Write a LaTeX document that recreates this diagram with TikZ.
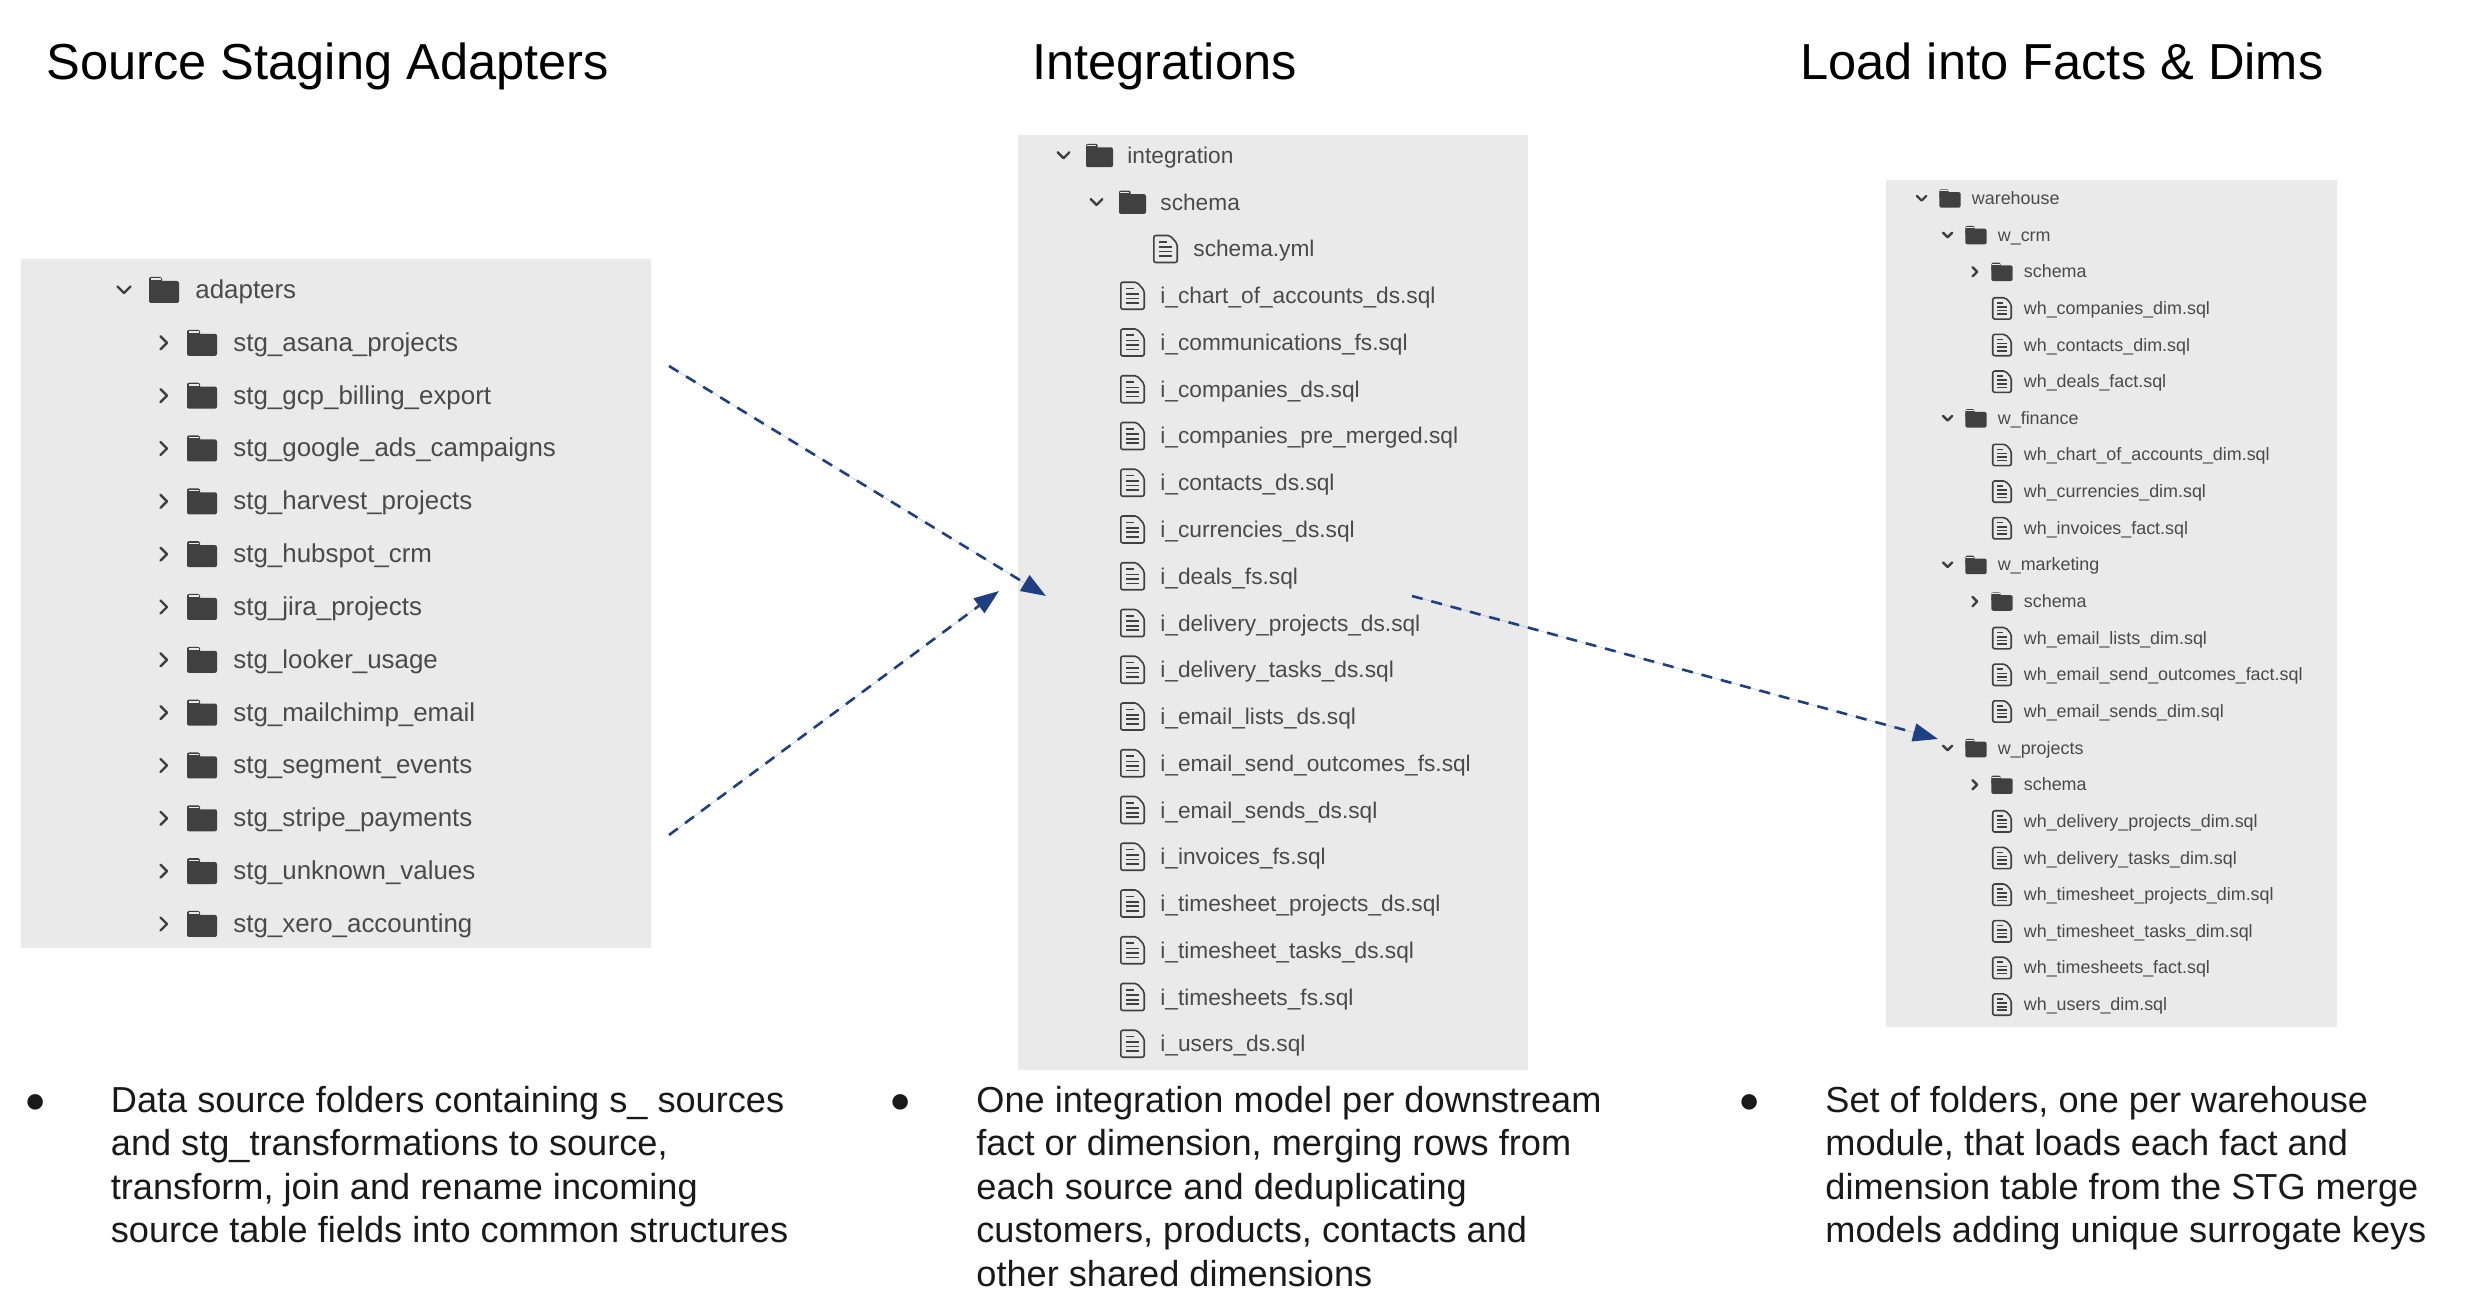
\documentclass[tikz,border=0pt]{standalone}
\usepackage{fontspec}
\setmainfont{Liberation Sans}
\usetikzlibrary{arrows.meta}

\definecolor{panelgray}{HTML}{EAEAEA}
\definecolor{icongray}{HTML}{404040}
\definecolor{treetext}{HTML}{4A4A4A}
\definecolor{flowblue}{HTML}{1F3F85}

\newcommand{\foldershape}{
  \fill[icongray, rounded corners=1pt] (-15,-13) rectangle (-2,0);
  \fill[icongray, rounded corners=1pt] (-15,-9) rectangle (15,13);
  \fill[panelgray] (-13.5,-11.5) rectangle (-3.5,-10);
}

\tikzset{
  panel/.style={fill=panelgray},
  heading/.style={anchor=base west, inner sep=0pt, font=\fontsize{25.3}{30}\selectfont},
  blurb/.style={anchor=base west, inner sep=0pt, align=left, font=\fontsize{18.08}{21.75}\selectfont, text=black!90},
  blob/.style={anchor=base west, inner sep=0pt, font=\fontsize{18}{21.75}\selectfont, text=black!90},
  treelabel/.style={anchor=base west, inner sep=0pt, text=treetext},
  flow/.style={-{Triangle[length=12.5pt,width=9pt]}, draw=flowblue, fill=flowblue, line width=1.3pt, dash pattern=on 5.5pt off 4.5pt},
  pics/openfolder/.style={code={
    \draw[icongray, line width=1.2pt, line cap=round, line join=round] (-46.5,-3.5) -- (-40,3) -- (-33.5,-3.5);
    \foldershape
  }},
  pics/shutfolder/.style={code={
    \draw[icongray, line width=1.2pt, line cap=round, line join=round] (-41.5,-6.5) -- (-35,0) -- (-41.5,6.5);
    \foldershape
  }},
  pics/docfile/.style={code={
    \draw[icongray, line width=.8pt, rounded corners=1pt, line join=round] (-13,-15) -- (5,-15) -- (13,-6) -- (13,15) -- (-13,15) -- cycle;
    \draw[icongray, line width=.8pt] (-7,-8) -- (2,-8) (-7,-2) -- (7,-2) (-7,3) -- (7,3) (-7,8) -- (7,8);
  }},
}

\begin{document}
\begin{tikzpicture}[x=0.5pt, y=-0.5pt]
  \useasboundingbox (0,0) rectangle (2486,1316);

  % headings
  \node[heading] (headadp) at (46,80) {Source Staging Adapters};
  \node[heading] (headint) at (1032,80) {Integrations};
  \node[heading] (headwh) at (1800,80) {Load into Facts \& Dims};

  % grey panels behind the trees
  \fill[panel] (21,259) rectangle (651,948);
  \fill[panel] (1018,135) rectangle (1528,1070);
  \fill[panel] (1886,180) rectangle (2337,1027);

  % adapters tree
  \foreach \lvl/\icon/\name [count=\i from 0] in {
    0/openfolder/adapters,
    1/shutfolder/stg\_asana\_projects,
    1/shutfolder/stg\_gcp\_billing\_export,
    1/shutfolder/stg\_google\_ads\_campaigns,
    1/shutfolder/stg\_harvest\_projects,
    1/shutfolder/stg\_hubspot\_crm,
    1/shutfolder/stg\_jira\_projects,
    1/shutfolder/stg\_looker\_usage,
    1/shutfolder/stg\_mailchimp\_email,
    1/shutfolder/stg\_segment\_events,
    1/shutfolder/stg\_stripe\_payments,
    1/shutfolder/stg\_unknown\_values,
    1/shutfolder/stg\_xero\_accounting} {
    \pic at ({164+38*\lvl},{290+52.83*\i}) {\icon};
    \node[treelabel, font=\fontsize{12.95}{16}\selectfont] (adp\i) at ({195+38*\lvl},{298.5+52.83*\i}) {\name};
  }

  % integration tree
  \foreach \lvl/\icon/\name [count=\i from 0] in {
    0/openfolder/integration,
    1/openfolder/schema,
    2/docfile/schema.yml,
    1/docfile/i\_chart\_of\_accounts\_ds.sql,
    1/docfile/i\_communications\_fs.sql,
    1/docfile/i\_companies\_ds.sql,
    1/docfile/i\_companies\_pre\_merged.sql,
    1/docfile/i\_contacts\_ds.sql,
    1/docfile/i\_currencies\_ds.sql,
    1/docfile/i\_deals\_fs.sql,
    1/docfile/i\_delivery\_projects\_ds.sql,
    1/docfile/i\_delivery\_tasks\_ds.sql,
    1/docfile/i\_email\_lists\_ds.sql,
    1/docfile/i\_email\_send\_outcomes\_fs.sql,
    1/docfile/i\_email\_sends\_ds.sql,
    1/docfile/i\_invoices\_fs.sql,
    1/docfile/i\_timesheet\_projects\_ds.sql,
    1/docfile/i\_timesheet\_tasks\_ds.sql,
    1/docfile/i\_timesheets\_fs.sql,
    1/docfile/i\_users\_ds.sql} {
    \pic[scale=.9] at ({1099.5+33*\lvl},{155.5+46.75*\i}) {\icon};
    \node[treelabel, font=\fontsize{11.35}{14}\selectfont] (int\i) at ({1127+33*\lvl},{163.5+46.75*\i}) {\name};
  }

  % warehouse tree
  \foreach \lvl/\icon/\name [count=\i from 0] in {
    0/openfolder/warehouse,
    1/openfolder/w\_crm,
    2/shutfolder/schema,
    2/docfile/wh\_companies\_dim.sql,
    2/docfile/wh\_contacts\_dim.sql,
    2/docfile/wh\_deals\_fact.sql,
    1/openfolder/w\_finance,
    2/docfile/wh\_chart\_of\_accounts\_dim.sql,
    2/docfile/wh\_currencies\_dim.sql,
    2/docfile/wh\_invoices\_fact.sql,
    1/openfolder/w\_marketing,
    2/shutfolder/schema,
    2/docfile/wh\_email\_lists\_dim.sql,
    2/docfile/wh\_email\_send\_outcomes\_fact.sql,
    2/docfile/wh\_email\_sends\_dim.sql,
    1/openfolder/w\_projects,
    2/shutfolder/schema,
    2/docfile/wh\_delivery\_projects\_dim.sql,
    2/docfile/wh\_delivery\_tasks\_dim.sql,
    2/docfile/wh\_timesheet\_projects\_dim.sql,
    2/docfile/wh\_timesheet\_tasks\_dim.sql,
    2/docfile/wh\_timesheets\_fact.sql,
    2/docfile/wh\_users\_dim.sql} {
    \pic[scale=.71] at ({1950+26*\lvl},{198.5+36.64*\i}) {\icon};
    \node[treelabel, font=\fontsize{8.95}{11}\selectfont] (wh\i) at ({1971.5+26*\lvl},{204.5+36.64*\i}) {\name};
  }

  % dashed flows between the trees
  \coordinate (adptop) at (669,366);
  \coordinate (adpbot) at (669,835);
  \coordinate (intin) at (1046,596);
  \coordinate (intinb) at (999,591);
  \coordinate (intout) at (1412,596);
  \coordinate (whin) at (1938,739);
  \draw[flow] (adptop) -- (intin);
  \draw[flow] (adpbot) -- (intinb);
  \draw[flow] (intout) -- (whin);

  % notes under the trees
  \node[blob] (dotadp) at (24,1112) {●};
  \node[blurb] (noteadp) at (110.5,1242.5) {Data source folders containing s\_ sources\\and stg\_transformations to source,\\transform, join and rename incoming\\source table fields into common structures};
  \node[blob] (dotint) at (889,1112) {●};
  \node[blurb] (noteint) at (976,1286) {One integration model per downstream\\fact or dimension, merging rows from\\each source and deduplicating\\customers, products, contacts and\\other shared dimensions};
  \node[blob] (dotwh) at (1738,1112) {●};
  \node[blurb] (notewh) at (1825,1242.5) {Set of folders, one per warehouse\\module, that loads each fact and\\dimension table from the STG merge\\models adding unique surrogate keys};
\end{tikzpicture}
\end{document}
